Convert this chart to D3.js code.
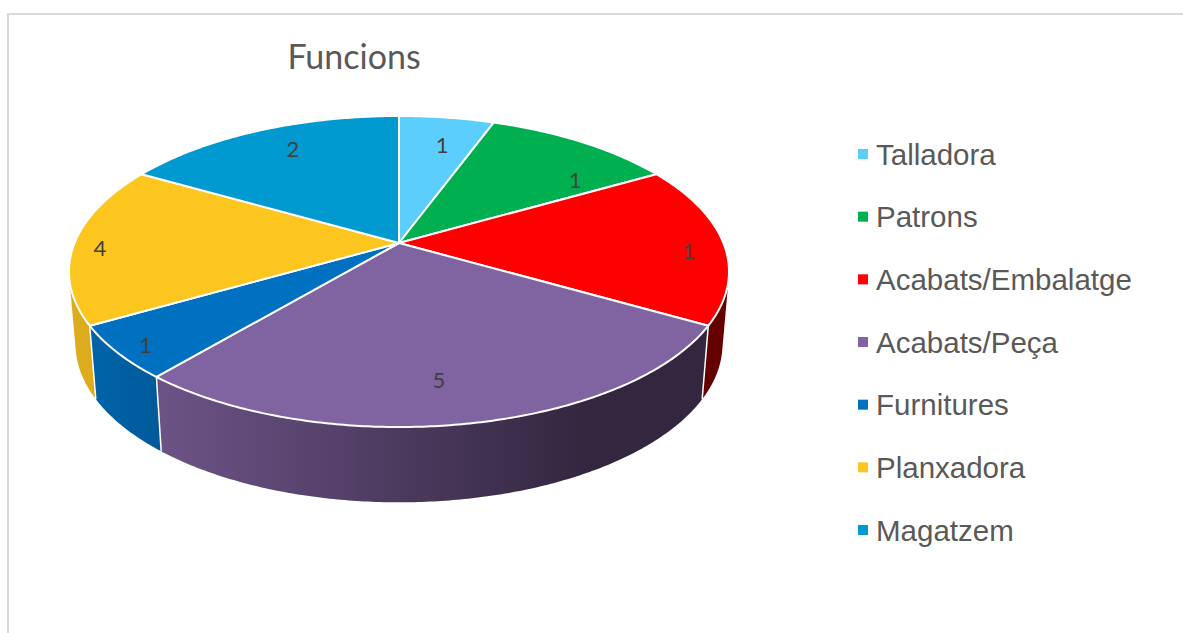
<!DOCTYPE html>
<html>
<head>
<meta charset="utf-8">
<script src="https://cdn.jsdelivr.net/npm/d3@7"></script>
<style>
  html, body { margin: 0; padding: 0; background: #fff; overflow: hidden; }
  svg { display: block; }
</style>
</head>
<body>
<div id="chart"></div>
<script>
const width = 1183;
const height = 633;

const title = "Funcions";
const categories = ["Talladora", "Patrons", "Acabats/Embalatge", "Acabats/Peça", "Furnitures", "Planxadora", "Magatzem"];
// slice sizes; the printed labels do not follow them in the original
const sliceValues = [1, 2, 3, 5, 1, 3, 3];
const sliceLabels = ["1", "1", "1", "5", "1", "4", "2"];
const colors = ["#5bcefd", "#00b050", "#ff0000", "#8064a2", "#0070c0", "#fcc61e", "#0099d0"];
const wallLeft = ["#3a7d99", "#006b31", "#640000", "#6c5386", "#0063a8", "#dcac1c", "#005d80"];
const wallRight = ["#3a7d99", "#006b31", "#600000", "#33263f", "#005a99", "#dcac1c", "#005d80"];

// label placement inside the disk: radius fraction and angle in degrees
const labelRadius = [0.756, 0.743, 0.885, 0.788, 0.92, 0.917, 0.797];
const labelAngle = [11.5, 52.3, 93.4, 172.3, 229, 268, 332.4];

// perspective view of the two disks
const top3d = { cx: 399, cy: 243, a: 324.4, b: 150.3, k: 0.1833 };
const bottom3d = { cx: 399, cy: 315, a: 318, b: 153, k: 0.1833 };

function project(disk, angle, r) {
  const u = r * Math.sin(angle);
  const v = -r * Math.cos(angle);
  const w = 1 - disk.k * v;
  return [disk.cx + disk.a * u / w, disk.cy + disk.b * v / w];
}

function arcPoints(disk, start, end) {
  const n = Math.max(2, Math.ceil((end - start) / 0.01));
  return d3.range(n + 1).map(i => project(disk, start + (end - start) * i / n, 1));
}

const svg = d3.select("#chart").append("svg")
  .attr("width", width)
  .attr("height", height);

// chart frame, runs off the right and bottom of the page
svg.append("rect")
  .attr("x", 8)
  .attr("y", 14)
  .attr("width", width + 20)
  .attr("height", height + 20)
  .attr("fill", "#fff")
  .attr("stroke", "#d9d9d9")
  .attr("stroke-width", 2);

svg.append("text")
  .attr("x", 354)
  .attr("y", 69)
  .attr("text-anchor", "middle")
  .attr("font-family", "Lato, 'Open Sans', sans-serif")
  .attr("font-size", 34)
  .attr("fill", "#595959")
  .text(title);

const pie = d3.pie().sort(null).value(d => d);
const arcs = pie(sliceValues);
const line = d3.line();

const defs = svg.append("defs");
arcs.forEach((d, i) => {
  const xs = arcPoints(bottom3d, d.startAngle, d.endAngle).map(p => p[0]);
  const grad = defs.append("linearGradient")
    .attr("id", "wall" + i)
    .attr("gradientUnits", "userSpaceOnUse")
    .attr("x1", d3.min(xs))
    .attr("x2", Math.min(d3.max(xs), 590))
    .attr("y1", 0)
    .attr("y2", 0);
  grad.append("stop").attr("offset", 0).attr("stop-color", wallLeft[i]);
  grad.append("stop").attr("offset", 1).attr("stop-color", wallRight[i]);
});

// wall of one slice as many small quads, all wound the same way so the outline follows the silhouette
function wallPath(d) {
  const up = arcPoints(top3d, d.startAngle, d.endAngle);
  const down = arcPoints(bottom3d, d.startAngle, d.endAngle);
  return d3.range(up.length - 1).map(j => {
    const quad = [up[j], up[j + 1], down[j + 1], down[j]];
    if (d3.polygonArea(quad) < 0) quad.reverse();
    return line(quad) + "Z";
  }).join("");
}

svg.append("g")
  .selectAll("path")
  .data(arcs)
  .join("path")
  .attr("d", wallPath)
  .attr("fill", (d, i) => `url(#wall${i})`);

// white seams on the wall, only where a boundary faces the viewer
const seams = arcs.map(d => d.endAngle).filter(a => Math.cos(a) < -0.3);
svg.append("g")
  .selectAll("path")
  .data(seams)
  .join("path")
  .attr("d", a => line([project(top3d, a, 1), project(bottom3d, a, 1)]))
  .attr("stroke", "#fff")
  .attr("stroke-width", 1.5)
  .attr("fill", "none");

// top face
svg.append("g")
  .selectAll("path")
  .data(arcs)
  .join("path")
  .attr("d", d => line([project(top3d, 0, 0)].concat(arcPoints(top3d, d.startAngle, d.endAngle))) + "Z")
  .attr("fill", (d, i) => colors[i])
  .attr("stroke", "#fff")
  .attr("stroke-width", 2)
  .attr("stroke-linejoin", "round");

svg.append("g")
  .selectAll("text")
  .data(sliceLabels)
  .join("text")
  .attr("x", (d, i) => project(top3d, labelAngle[i] * Math.PI / 180, labelRadius[i])[0])
  .attr("y", (d, i) => project(top3d, labelAngle[i] * Math.PI / 180, labelRadius[i])[1])
  .attr("dy", "0.36em")
  .attr("text-anchor", "middle")
  .attr("font-family", "Lato, 'Open Sans', sans-serif")
  .attr("font-size", 22)
  .attr("fill", "#404040")
  .text(d => d);

// legend
const legendY = d3.scalePoint().domain(categories).range([154, 530]);
const legend = svg.append("g")
  .selectAll("g")
  .data(categories)
  .join("g")
  .attr("transform", d => `translate(858,${legendY(d)})`);

legend.append("rect")
  .attr("x", 0)
  .attr("y", -5)
  .attr("width", 10)
  .attr("height", 10)
  .attr("fill", (d, i) => colors[i]);

legend.append("text")
  .attr("x", 18)
  .attr("y", 10.5)
  .attr("font-family", "'Liberation Sans', Arial, sans-serif")
  .attr("font-size", 29.5)
  .attr("fill", "#595959")
  .text(d => d);
</script>
</body>
</html>
